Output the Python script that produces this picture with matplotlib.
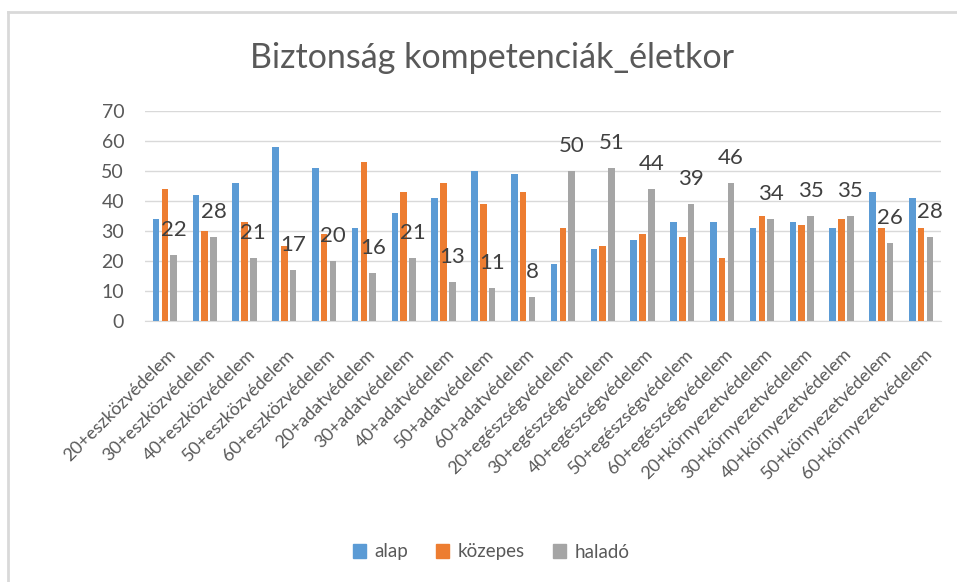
import numpy as np
import matplotlib
matplotlib.use("Agg")
import matplotlib.pyplot as plt
from matplotlib.lines import Line2D
from matplotlib.transforms import ScaledTranslation

plt.rcParams['font.family'] = ['Lato', 'DejaVu Sans']

categories = ["20+eszközvédelem", "30+eszközvédelem", "40+eszközvédelem",
              "50+eszközvédelem", "60+eszközvédelem", "20+adatvédelem",
              "30+adatvédelem", "40+adatvédelem", "50+adatvédelem",
              "60+adatvédelem", "20+egészségvédelem", "30+egészségvédelem",
              "40+egészségvédelem", "50+egészségvédelem", "60+egészségvédelem",
              "20+környezetvédelem", "30+környezetvédelem", "40+környezetvédelem",
              "50+környezetvédelem", "60+környezetvédelem"]
alap = [34, 42, 46, 58, 51, 31, 36, 41, 50, 49, 19, 24, 27, 33, 33, 31, 33, 31, 43, 41]
kozepes = [44, 30, 33, 25, 29, 53, 43, 46, 39, 43, 31, 25, 29, 28, 21, 35, 32, 34, 31, 31]
halado = [22, 28, 21, 17, 20, 16, 21, 13, 11, 8, 50, 51, 44, 39, 46, 34, 35, 35, 26, 28]
series_names = ["alap", "közepes", "haladó"]
colors = ["#5b9bd5", "#ed7d31", "#a5a5a5"]

fig = plt.figure(figsize=(9.57, 5.82), dpi=100)
ax = fig.add_axes([145/957, 1-321/582, (941-145)/957, 210/582])

x = np.arange(len(categories))
w = 0.165
step = 0.222
bars = []
for i, (vals, name, c) in enumerate(zip([alap, kozepes, halado], series_names, colors)):
    b = ax.bar(x + (i-1)*step, vals, width=w, color=c, label=name, zorder=3)
    bars.append(b)

# data labels only on haladó
for rect, v in zip(bars[2], halado):
    ax.annotate(str(v), (rect.get_x() + rect.get_width()/2, v),
                xytext=(0, 11), textcoords='offset points',
                ha='center', va='bottom', fontsize=16, color='#404040')

ax.set_xlim(-0.5, len(categories)-0.5)
ax.set_ylim(0, 70)
ax.set_yticks(range(0, 71, 10))
ax.grid(axis='y', color='#d9d9d9', linewidth=1, zorder=0)
for s in ['top', 'right', 'left']:
    ax.spines[s].set_visible(False)
ax.spines['bottom'].set_color('#d9d9d9')
ax.tick_params(axis='y', length=0, pad=15, labelsize=14, labelcolor='#595959')
ax.tick_params(axis='x', length=0, pad=22, labelsize=13, labelcolor='#595959')
ax.set_xticks(x)
ax.set_xticklabels(categories, rotation=45, ha='right', va='center', rotation_mode='anchor')
shift = ScaledTranslation(8/100, 0, fig.dpi_scale_trans)
for lab in ax.get_xticklabels():
    lab.set_transform(lab.get_transform() + shift)

fig.text(492/957, 1-58/582, "Biztonság kompetenciák_életkor", ha='center', va='center',
         fontsize=24.5, color='#595959')

fig.legend(handles=[plt.Rectangle((0, 0), 1, 1, color=c) for c in colors], labels=series_names,
           loc='center', bbox_to_anchor=(491/957, 1-552/582), ncol=3, frameon=False,
           fontsize=13.5, handlelength=0.7, handleheight=0.7, handletextpad=0.45,
           columnspacing=1.5, labelcolor='#595959')

# chart border (top and left visible)
fig.add_artist(Line2D([8/957, 1], [1-12/582, 1-12/582], color='#d9d9d9', linewidth=2))
fig.add_artist(Line2D([8/957, 8/957], [0, 1-12/582], color='#d9d9d9', linewidth=2))

fig.savefig("out.png", dpi=100)
